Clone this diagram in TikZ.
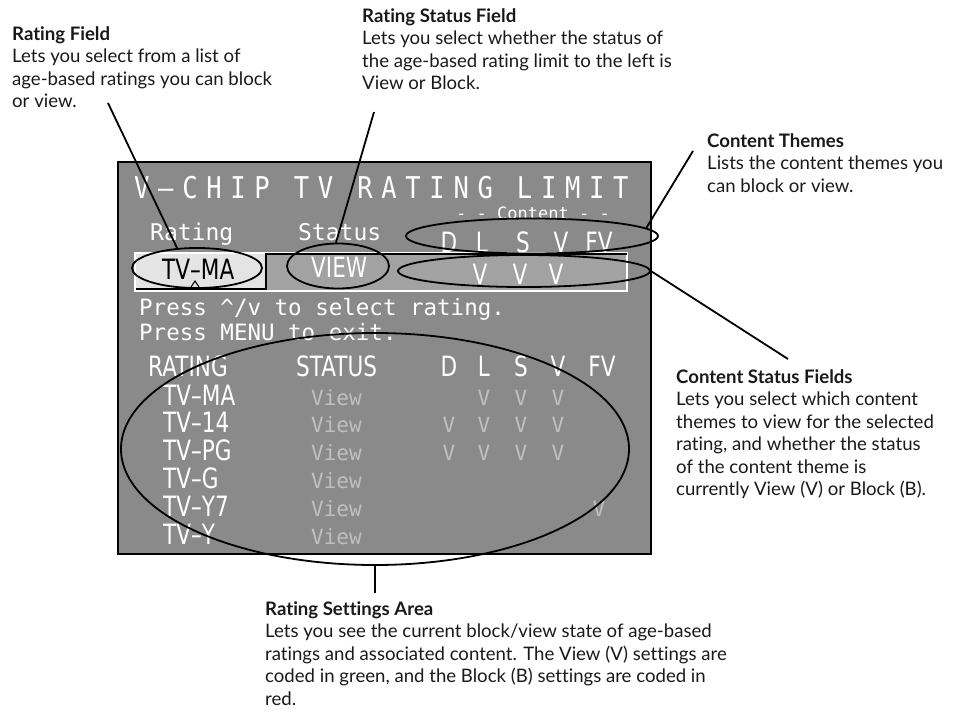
\documentclass[tikz,border=0pt]{standalone}
\usepackage{fontspec}
\usetikzlibrary{shapes.geometric}
\setmainfont{Lato}[Ligatures={NoCommon}]
\newfontfamily\scrmono{DejaVu Sans Mono}
\newfontfamily\scrtitle[FakeStretch=0.85,LetterSpace=29]{DejaVu Sans Mono}
\newfontfamily\scrsans[FakeStretch=0.77]{DejaVu Sans}
\definecolor{screen}{RGB}{138,138,138}
\definecolor{rowfill}{RGB}{162,162,162}
\definecolor{cellfill}{RGB}{228,228,228}
\definecolor{dim}{RGB}{192,192,192}
\definecolor{ink}{RGB}{25,25,25}
\newcommand{\bigsans}{\scrsans\fontsize{28}{28}\selectfont}
\newcommand{\smallmono}{\scrmono\fontsize{21}{21}\selectfont}

\begin{document}
\begin{tikzpicture}[x=1pt,y=-1pt,
    callout/.style={anchor=base west, inner sep=0pt, align=left, text=ink,
      font=\fontsize{18.6}{22.5}\selectfont},
    ring/.style={ellipse, draw, line width=1.8pt, inner sep=0pt},
    leader/.style={line width=1.8pt},
    osd/.style={anchor=base west, inner sep=0pt, text=white},
    flag/.style={anchor=base, inner sep=0pt}]
   \useasboundingbox (0,0) rectangle (954,715);

   % the on-screen menu
   \draw[line width=1.8pt, fill=screen] (118,162) rectangle (651,554);
   \fill[rowfill] (266,253) rectangle (627,291);
   \fill[cellfill] (135,253) rectangle (266,291);
   \draw[white, line width=1.5pt] (135,253) rectangle (627,291);
   \draw[line width=1.5pt] (266,254) -- (627,254);
   \draw[line width=1.5pt] (266,253) -- (266,289) -- (136,289);
   \draw[line width=1pt] (191,287) -- (195,281) -- (199,287);

   \node[osd, font=\scrtitle\fontsize{30}{30}\selectfont] (title) at (134,198) {V–CHIP TV RATING LIMIT};
   \node[osd, font=\scrmono\fontsize{17}{17}\selectfont, anchor=base] (content) at (533,219) {- - Content - -};
   \node[osd, font=\scrmono\fontsize{23}{23}\selectfont] (rating) at (150,240) {Rating};
   \node[osd, font=\scrmono\fontsize{23}{23}\selectfont] (status) at (298,240) {Status};
   \foreach \t/\x in {D/449, L/482, S/523, V/561, FV/599}
      \node[flag, text=white, font=\bigsans] (top\t) at (\x,252) {\t};

   \node[osd, text=black, font=\bigsans] (selRating) at (162,279) {TV–MA};
   \node[osd, font=\bigsans] (selStatus) at (311,277) {VIEW};
   \foreach \x [count=\i] in {480,520,556}
      \node[flag, text=white, font=\bigsans] (sel\i) at (\x,284) {V};

   \node[osd, font=\scrmono\fontsize{22.5}{22.5}\selectfont] (hint1) at (139,315) {Press \textasciicircum/v to select rating.};
   \node[osd, font=\scrmono\fontsize{22.5}{22.5}\selectfont] (hint2) at (139,340) {Press MENU to exit.};

   \node[osd, font=\bigsans] (colRating) at (148,376) {RATING};
   \node[osd, font=\bigsans] (colStatus) at (296,376) {STATUS};
   \foreach \t/\x in {D/449, L/484, S/521, V/558, FV/602}
      \node[flag, text=white, font=\bigsans] (col\t) at (\x,376) {\t};

   \foreach \r/\y [count=\i] in {TV–MA/405, TV–14/432, TV–PG/460, TV–G/488, TV–Y7/516, TV–Y/544}{
      \node[osd, font=\bigsans] (row\i) at (163,\y) {\r};
      \node[osd, text=dim, font=\smallmono] (view\i) at (311,\y) {View};
   }
   \foreach \x/\y [count=\i] in {484/405, 521/405, 558/405,
         449/432, 484/432, 521/432, 558/432,
         449/460, 484/460, 521/460, 558/460, 599/516}
      \node[flag, text=dim, font=\smallmono] (mark\i) at (\x,\y) {V};

   % rings round the fields
   \node[ring, minimum width=130pt, minimum height=40pt] (ratingRing) at (197,268) {};
   \node[ring, minimum width=102pt, minimum height=45pt] (statusRing) at (338,266) {};
   \node[ring, minimum width=252pt, minimum height=35pt] (themesRing) at (532,236) {};
   \node[ring, minimum width=252pt, minimum height=32pt] (valuesRing) at (524,271) {};
   \node[ring, minimum width=508pt, minimum height=232pt] (areaRing) at (375,449) {};

   % callouts (placed by the baseline of their last line)
   \node[callout] (ratingNote) at (12,107.5) {\textbf{Rating Field}\\Lets you select from a list of\\age-based ratings you can block\\or view.};
   \node[callout] (statusNote) at (362,89.5) {\textbf{Rating Status Field}\\Lets you select whether the status of\\the age-based rating limit to the left is\\View or Block.};
   \node[callout] (themesNote) at (707,192) {\textbf{Content Themes}\\Lists the content themes you\\can block or view.};
   \node[callout] (valuesNote) at (676,495.5) {\textbf{Content Status Fields}\\Lets you select which content\\themes to view for the selected\\rating, and whether the status\\of the content theme is\\currently View (V) or Block (B).};
   \node[callout] (areaNote) at (265,705) {\textbf{Rating Settings Area}\\Lets you see the current block/view state of age-based\\ratings and associated content. The View (V) settings are\\coded in green, and the Block (B) settings are coded in\\red.};

   \coordinate (ratingTip) at (108,103);
   \coordinate (statusTip) at (374,112);
   \coordinate (themesTip) at (693,151);
   \coordinate (valuesTip) at (788,359);
   \coordinate (areaTip) at (375,593);
   \draw[leader] (ratingTip) to (ratingRing.135);
   \draw[leader] (statusTip) to (statusRing.95);
   \draw[leader] (themesTip) to (themesRing.4);
   \draw[leader] (valuesRing.east) to (valuesTip);
   \draw[leader] (areaRing.south) to (areaTip);
\end{tikzpicture}
\end{document}
